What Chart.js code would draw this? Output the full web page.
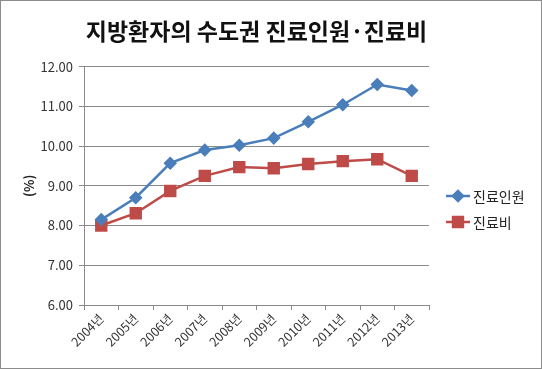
<!DOCTYPE html>
<html>
<head>
<meta charset="utf-8">
<script src="https://cdn.jsdelivr.net/npm/chart.js@4/dist/chart.umd.min.js"></script>
<style>
  body { margin: 0; background: #fff; }
  #wrap { position: absolute; left: 0; top: 0; width: 542px; height: 369px; box-sizing: border-box; border: 1px solid #8c8c8c; background: #fff; }
  #chart { display: block; }
</style>
</head>
<body>
<div id="wrap"><canvas id="chart" width="540" height="367"></canvas></div>
<script>
// chart data
var years = ['2004년', '2005년', '2006년', '2007년', '2008년', '2009년', '2010년', '2011년', '2012년', '2013년'];
var patients = [8.15, 8.70, 9.57, 9.90, 10.02, 10.20, 10.61, 11.04, 11.55, 11.40];
var costs = [8.00, 8.31, 8.87, 9.25, 9.47, 9.44, 9.55, 9.62, 9.67, 9.25];
var seriesNames = ['진료인원', '진료비'];
var titleText = '지방환자의 수도권 진료인원·진료비';

var fontFamily = "'Noto Sans CJK KR', 'Noto Sans', sans-serif";
var blue = '#4a7ebb';
var red = '#be4b48';
var gridColor = '#8a8a8a';

// legend with line + marker, like the office chart
var lineLegend = {
    id: 'lineLegend',
    afterDraw: function (chart) {
        var ctx = chart.ctx;
        var x0 = 445, y0 = 195, gap = 26;
        chart.data.datasets.forEach(function (ds, i) {
            var y = y0 + i * gap;
            ctx.save();
            ctx.strokeStyle = ds.borderColor;
            ctx.lineWidth = 2.5;
            ctx.beginPath();
            ctx.moveTo(x0, y);
            ctx.lineTo(x0 + 24, y);
            ctx.stroke();
            Chart.helpers.drawPoint(ctx, {
                pointStyle: ds.pointStyle,
                radius: ds.pointRadius,
                rotation: 0,
                borderWidth: 1
            }, x0 + 12, y);
            ctx.fillStyle = ds.pointBackgroundColor;
            ctx.fill();
            ctx.fillStyle = '#222';
            ctx.font = '14px ' + fontFamily;
            ctx.textBaseline = 'middle';
            ctx.fillText(ds.label, x0 + 27, y + 1);
            ctx.restore();
        });
    }
};

var ctx = document.getElementById('chart').getContext('2d');
var myChart = new Chart(ctx, {
    type: 'line',
    data: {
        labels: years,
        datasets: [{
            label: seriesNames[0],
            data: patients,
            borderColor: blue,
            backgroundColor: blue,
            pointBackgroundColor: blue,
            pointBorderColor: blue,
            borderWidth: 2.5,
            pointStyle: 'rectRot',
            pointRadius: 5,
            tension: 0
        }, {
            label: seriesNames[1],
            data: costs,
            borderColor: red,
            backgroundColor: red,
            pointBackgroundColor: red,
            pointBorderColor: red,
            borderWidth: 2.5,
            pointStyle: 'rect',
            pointRadius: 7,
            tension: 0
        }]
    },
    options: {
        responsive: false,
        animation: false,
        layout: { padding: { left: 20, right: 112, top: 0, bottom: 0 } },
        plugins: {
            legend: { display: false },
            tooltip: { enabled: false },
            title: {
                display: true,
                fullSize: false,
                text: titleText,
                color: '#111',
                font: { family: fontFamily, size: 23, weight: 'bold' },
                padding: { top: 16, bottom: 22 }
            }
        },
        scales: {
            x: {
                offset: true,
                grid: { display: true, drawOnChartArea: false, offset: true, color: gridColor, tickLength: 5 },
                border: { color: gridColor },
                ticks: {
                    minRotation: 45,
                    maxRotation: 45,
                    color: '#333',
                    font: { family: fontFamily, size: 12.5 },
                    padding: 1
                },
                afterFit: function (scale) { scale.height = 63; }
            },
            y: {
                min: 6,
                max: 12,
                ticks: {
                    stepSize: 1,
                    color: '#333',
                    font: { family: fontFamily, size: 13 },
                    padding: 6,
                    callback: function (value) { return value.toFixed(2); }
                },
                grid: { color: gridColor, tickLength: 5 },
                border: { color: gridColor },
                title: {
                    display: true,
                    text: '(%)',
                    color: '#222',
                    font: { family: fontFamily, size: 13, weight: 'bold' },
                    padding: 0
                },
                afterFit: function (scale) { scale.width = 63; }
            }
        }
    },
    plugins: [lineLegend]
});
</script>
</body>
</html>
